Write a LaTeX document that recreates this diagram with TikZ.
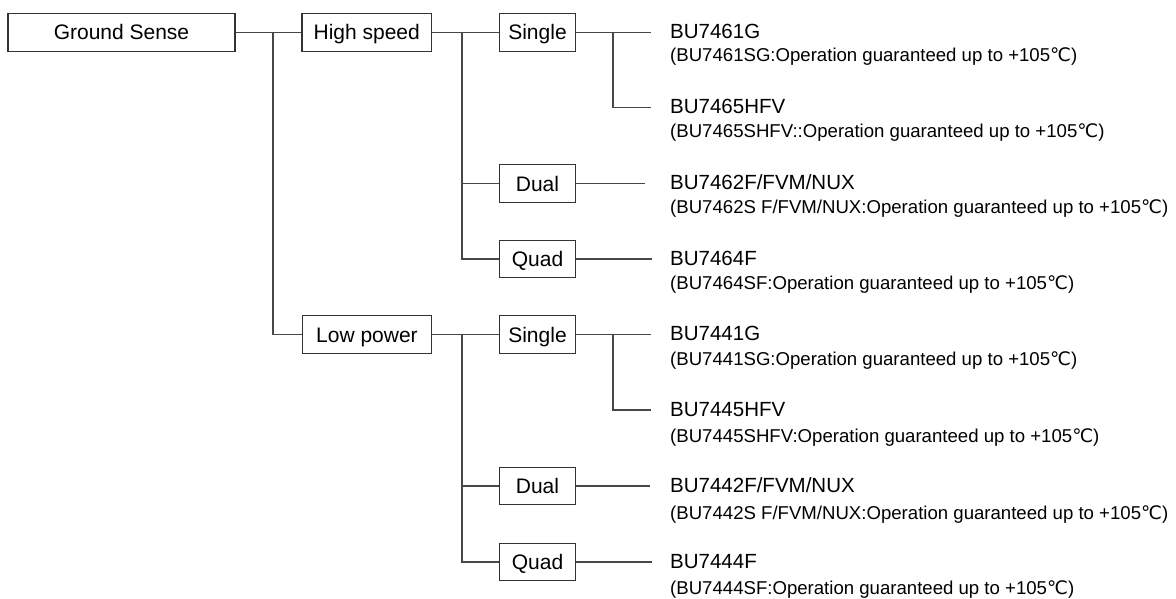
\documentclass[tikz,border=0pt]{standalone}
\usepackage{fontspec}
\setmainfont{Liberation Sans}
\newfontfamily\celsiusfont{DejaVu Sans}
\newcommand{\degC}{{\celsiusfont ℃}}

\tikzset{
  box/.style={draw=black!80, line width=1.1pt, inner sep=0pt, minimum height=37.6pt, text height=15pt, text depth=0pt, font=\fontsize{21}{25}\selectfont},
  link/.style={draw=black!72, line width=1.1pt},
  part/.style={anchor=base west, inner sep=0pt, font=\fontsize{20.5}{24}\selectfont},
  note/.style={anchor=base west, inner sep=0pt, font=\fontsize{18.6}{22}\selectfont},
}

\begin{document}
\begin{tikzpicture}[x=1pt, y=-1pt]

\useasboundingbox (0,0) rectangle (1176,599);

\node[box, minimum width=227pt] (gs) at (121.5,32.5) {Ground Sense};
\node[box, minimum width=129.5pt] (hs) at (366.75,32.5) {High speed};
\node[box, minimum width=129.5pt] (lp) at (367,334.5) {Low power};

\node[box, minimum width=76.5pt] (hs1) at (537.5,32.5) {Single};
\node[box, minimum width=76.5pt] (hs2) at (537.5,183.5) {Dual};
\node[box, minimum width=76.5pt] (hs4) at (537.5,259) {Quad};
\node[box, minimum width=76.5pt] (lp1) at (537.5,334.5) {Single};
\node[box, minimum width=76.5pt] (lp2) at (537.5,486) {Dual};
\node[box, minimum width=76.5pt] (lp4) at (537.5,562) {Quad};

\coordinate (j0) at (273,32.5);
\coordinate (j1) at (462,32.5);
\coordinate (j2) at (462,334.5);
\coordinate (j3) at (613,32.5);
\coordinate (j4) at (613,334.5);

\coordinate (e1) at (651,32.5);
\coordinate (e2) at (651,107.5);
\coordinate (e3) at (645,183.5);
\coordinate (e4) at (652,259);
\coordinate (e5) at (651,334.5);
\coordinate (e6) at (651,410);
\coordinate (e7) at (650,486);
\coordinate (e8) at (652,562);

\draw[link] (gs.east) -- (hs.west);
\draw[link] (j0) |- (lp.west);

\draw[link] (hs.east) -- (hs1.west);
\draw[link] (j1) |- (hs2.west);
\draw[link] (j1) |- (hs4.west);
\draw[link] (lp.east) -- (lp1.west);
\draw[link] (j2) |- (lp2.west);
\draw[link] (j2) |- (lp4.west);

\draw[link] (hs1.east) -- (e1);
\draw[link] (j3) |- (e2);
\draw[link] (hs2.east) -- (e3);
\draw[link] (hs4.east) -- (e4);
\draw[link] (lp1.east) -- (e5);
\draw[link] (j4) |- (e6);
\draw[link] (lp2.east) -- (e7);
\draw[link] (lp4.east) -- (e8);

\node[part] (it1) at (670,39) {BU7461G};
\node[note] (nt1) at (670,62) {(BU7461SG:Operation guaranteed up to +105\degC)};
\node[part] (it2) at (670,114) {BU7465HFV};
\node[note] (nt2) at (670,138) {(BU7465SHFV::Operation guaranteed up to +105\degC)};
\node[part] (it3) at (670,189.5) {BU7462F/FVM/NUX};
\node[note] (nt3) at (670,214) {(BU7462S F/FVM/NUX:Operation guaranteed up to +105\degC)};
\node[part] (it4) at (670,265) {BU7464F};
\node[note] (nt4) at (670,289) {(BU7464SF:Operation guaranteed up to +105\degC)};
\node[part] (it5) at (670,340.5) {BU7441G};
\node[note] (nt5) at (670,365) {(BU7441SG:Operation guaranteed up to +105\degC)};
\node[part] (it6) at (670,416) {BU7445HFV};
\node[note] (nt6) at (670,442) {(BU7445SHFV:Operation guaranteed up to +105\degC)};
\node[part] (it7) at (670,492) {BU7442F/FVM/NUX};
\node[note] (nt7) at (670,519) {(BU7442S F/FVM/NUX:Operation guaranteed up to +105\degC)};
\node[part] (it8) at (670,568) {BU7444F};
\node[note] (nt8) at (670,594) {(BU7444SF:Operation guaranteed up to +105\degC)};

\end{tikzpicture}
\end{document}
